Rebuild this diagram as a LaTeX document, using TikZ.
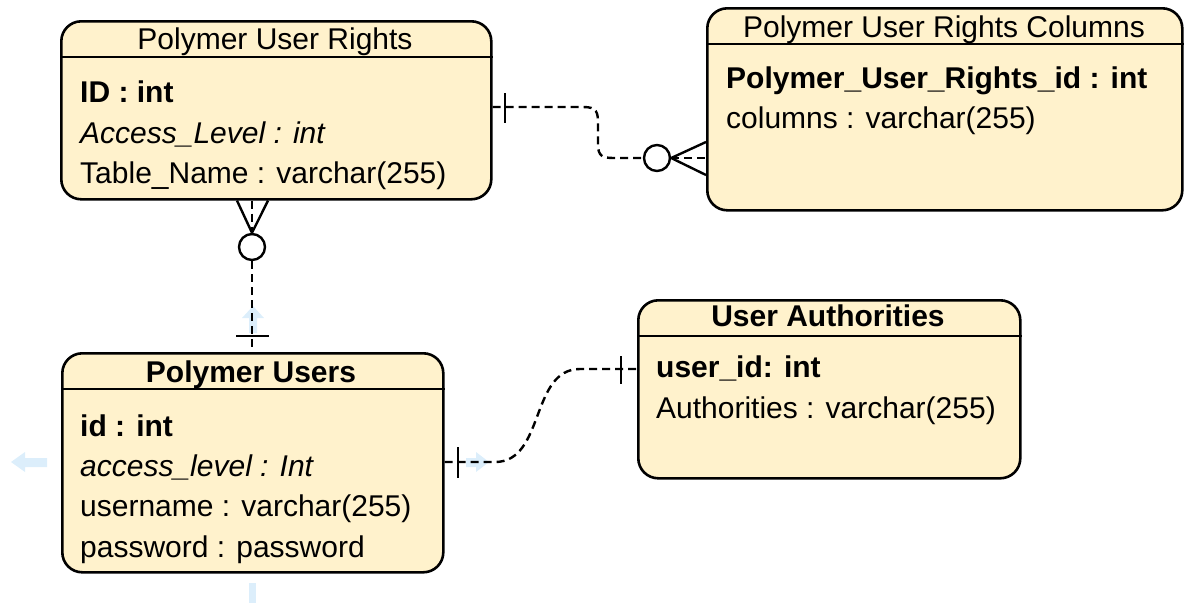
\documentclass[tikz,border=0pt]{standalone}
\usepackage{fontspec}
\setmainfont{Liberation Sans}
\definecolor{entfill}{HTML}{FFF2CC}
\definecolor{hintblue}{HTML}{DCEEFB}
\begin{document}
\begin{tikzpicture}[x=1pt,y=-1pt,
  entity/.style={draw=black, line width=2.6pt, fill=entfill, rounded corners=20pt,
    inner sep=0pt, anchor=north west},
  hdrline/.style={draw=black, line width=2.4pt},
  hdr/.style={font=\fontsize{30}{36}\selectfont, anchor=base, inner sep=0pt},
  attr/.style={font=\fontsize{30}{36}\selectfont, anchor=base west, inner sep=0pt},
  rel/.style={draw=black, line width=2.4pt, dash pattern=on 8pt off 5pt},
  relsolid/.style={draw=black, line width=2.4pt},
  opt/.style={circle, draw=black, line width=2.4pt, fill=white, minimum size=26pt, inner sep=0pt},
  hint/.style={fill=hintblue, draw=none}]
\useasboundingbox (0,0) rectangle (1184,603);

% faint editor hint arrows
\fill[hint] (11,462) -- (25,452) -- (25,458) -- (47,458) -- (47,467) -- (25,467) -- (25,472) -- cycle;
\fill[hint] (489,462) -- (476,452) -- (476,458) -- (466,458) -- (466,467) -- (476,467) -- (476,472) -- cycle;
\fill[hint] (253,306) -- (264,318) -- (257,318) -- (257,333) -- (249,333) -- (249,318) -- (242,318) -- cycle;
\fill[hint] (249,583) rectangle (256,603);

% entities
\node[entity, minimum width=430pt, minimum height=178pt] (pur) at (60,20) {};
\draw[hdrline] (pur.west |- 0,57) -- (pur.east |- 0,57);
\node[hdr] (purT) at (275,49) {Polymer User Rights};
\node[attr] (purA) at (80,102) {\textbf{ID : int}};
\node[attr] (purB) at (80,143) {\textit{Access\_Level : int}};
\node[attr] (purC) at (80,183) {Table\_Name : varchar(255)};

\node[entity, minimum width=475pt, minimum height=202pt] (purc) at (706,7) {};
\draw[hdrline] (purc.west |- 0,44) -- (purc.east |- 0,44);
\node[hdr] (purcT) at (944,37) {Polymer User Rights Columns};
\node[attr] (purcA) at (726,88) {\textbf{Polymer\_User\_Rights\_id : int}};
\node[attr] (purcB) at (726,128) {columns : varchar(255)};

\node[entity, minimum width=381pt, minimum height=219pt] (pu) at (61,352) {};
\draw[hdrline] (pu.west |- 0,389) -- (pu.east |- 0,389);
\node[hdr] (puT) at (251,382) {\textbf{Polymer Users}};
\node[attr] (puA) at (80,436) {\textbf{id : int}};
\node[attr] (puB) at (80,476) {\textit{access\_level : Int}};
\node[attr] (puC) at (80,516) {username : varchar(255)};
\node[attr] (puD) at (80,557) {password : password};

\node[entity, minimum width=382pt, minimum height=178pt] (ua) at (637,299) {};
\draw[hdrline] (ua.west |- 0,336) -- (ua.east |- 0,336);
\node[hdr] (uaT) at (828,326) {\textbf{User Authorities}};
\node[attr] (uaA) at (656,377) {\textbf{user\_id: int}};
\node[attr] (uaB) at (656,418) {Authorities : varchar(255)};

% relation 1: Polymer User Rights -> Columns (one to zero-or-many)
\node[opt] (c1) at (657,158) {};
\draw[rel] (pur.east |- 0,107) -- (583,107) .. controls (597,107) and (598,112) .. (598,124)
  -- (598,144) .. controls (598,156) and (602,158) .. (614,158) -- (c1.west);
\draw[relsolid] (505,93) -- (505,123);
\draw[rel] (c1.east) -- (purc.west |- 0,158);
\draw[relsolid] (purc.west |- 0,142) -- (c1.east) -- (purc.west |- 0,175);

% relation 2: Polymer User Rights -> Polymer Users
\node[opt] (c2) at (252,247) {};
\draw[rel] (pur.south -| c2) -- (c2.north);
\draw[relsolid] (pur.south -| 237,0) -- (c2.north) -- (pur.south -| 268,0);
\draw[rel] (c2.south) -- (pu.north -| c2);
\draw[relsolid] (236,336) -- (269,336);

% relation 3: Polymer Users -> User Authorities
\draw[rel] (pu.east |- 0,462) -- (495,462) .. controls (545,462) and (530,369) .. (580,369)
  -- (ua.west |- 0,369);
\draw[relsolid] (458,447) -- (458,478);
\draw[relsolid] (621,356) -- (621,384);
\end{tikzpicture}
\end{document}
